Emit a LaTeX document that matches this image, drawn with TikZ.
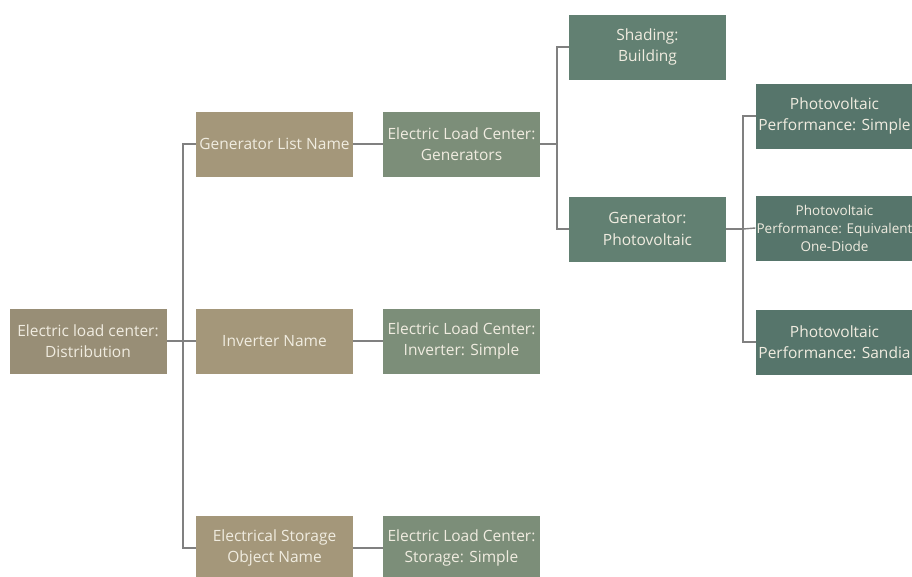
\documentclass[tikz,border=0pt]{standalone}
\usepackage{fontspec}
\setmainfont{Open Sans}
\definecolor{tanroot}{RGB}{152,142,118}
\definecolor{tanbox}{RGB}{164,151,122}
\definecolor{sageA}{RGB}{124,142,121}
\definecolor{sageB}{RGB}{98,128,114}
\definecolor{sageC}{RGB}{86,117,107}
\definecolor{txt}{RGB}{240,236,224}
\definecolor{wire}{RGB}{128,128,128}
\tikzset{
  box/.style={rectangle, minimum width=157pt, minimum height=65pt, inner sep=1pt,
    text=txt, align=center, font=\fontsize{15.5}{21.5}\selectfont},
  rootbox/.style={box, fill=tanroot},
  tbox/.style={box, fill=tanbox},
  sbox/.style={box, fill=sageA},
  gbox/.style={box, fill=sageB},
  pbox/.style={box, fill=sageC},
  wirestyle/.style={draw=wire, line width=1.4pt}
}
\begin{document}
\begin{tikzpicture}[x=1pt,y=-1pt]
\useasboundingbox (0,0) rectangle (912,576);
\clip (0,0) rectangle (912,576);
\fill[white] (0,0) rectangle (912,576);

\node[rootbox] (root) at (88,341) {Electric load center:\\Distribution};

\node[tbox] (gln) at (274.5,144) {Generator List Name};
\node[tbox] (inv) at (274.5,341) {Inverter Name};
\node[tbox] (sto) at (274.5,548) {Electrical Storage\\Object Name};

\node[sbox] (elcg) at (461.5,144) {Electric Load Center:\\Generators};
\node[sbox] (elci) at (461.5,341) {Electric Load Center:\\Inverter: Simple};
\node[sbox] (elcs) at (461.5,548) {Electric Load Center:\\Storage: Simple};

\node[gbox] (shd) at (647.5,47) {Shading:\\Building};
\node[gbox] (gpv) at (647.5,229) {Generator:\\Photovoltaic};

\node[pbox] (pvs) at (834.5,116) {Photovoltaic\\Performance: Simple};
\node[pbox, font=\fontsize{13.5}{18}\selectfont] (pve) at (834.5,228) {Photovoltaic\\Performance: Equivalent\\One-Diode};
\node[pbox] (pvd) at (834.5,342) {Photovoltaic\\Performance: Sandia};

\coordinate (bus1) at (183,341);
\coordinate (bus2) at (557,144);
\coordinate (bus3) at (743,229);

\begin{scope}[on background layer/.style={}]
\draw[wirestyle] (root.east) -- (bus1) |- (gln.west);
\draw[wirestyle] (bus1) |- (sto.west);
\draw[wirestyle] (bus1) -- (inv.west);
\draw[wirestyle] (gln.east) -- (elcg.west);
\draw[wirestyle] (inv.east) -- (elci.west);
\draw[wirestyle] (sto.east) -- (elcs.west);
\draw[wirestyle] (elcg.east) -- (bus2) |- (shd.west);
\draw[wirestyle] (bus2) |- (gpv.west);
\draw[wirestyle] (gpv.east) -- (bus3) |- (pvs.west);
\draw[wirestyle] (bus3) |- (pvd.west);
\draw[wirestyle] (bus3) -- (pve.west);
\end{scope}
\end{tikzpicture}
\end{document}
